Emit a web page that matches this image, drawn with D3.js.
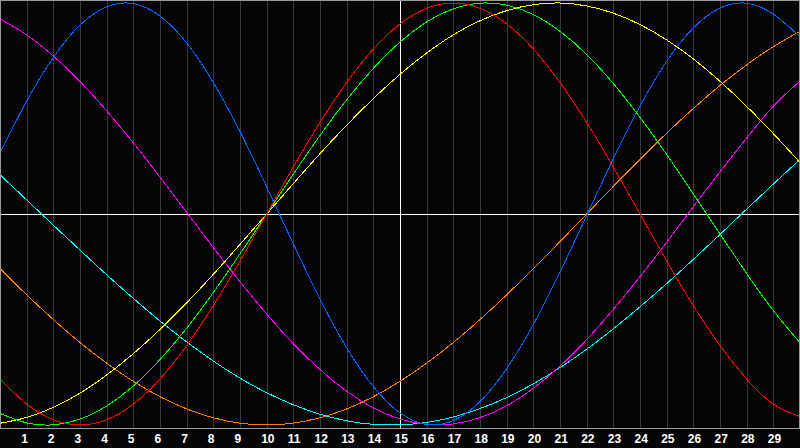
<!DOCTYPE html>
<html>
    <meta charset=utf-8>
<head>
    <style>
      body {
        margin: 0;
        background: #000;
      }
      #chart {
        display: block;
      }
    </style>
</head>

<body>
    <svg id="chart" width="800" height="448"></svg>
    <script src="https://d3js.org/d3.v7.min.js"></script>
    <script>

    // x positions of the samples (0 .. 30)
    var xs = [0, 1, 2, 3, 4, 5, 6, 7, 8, 9, 10, 11, 12, 13, 14, 15,
              16, 17, 18, 19, 20, 21, 22, 23, 24, 25, 26, 27, 28, 29, 30]

    var tickLabels = [1, 2, 3, 4, 5, 6, 7, 8, 9, 10, 11, 12, 13, 14, 15,
                      16, 17, 18, 19, 20, 21, 22, 23, 24, 25, 26, 27, 28, 29]

    // series values
    var red = [-0.782, -0.901, -0.975, -1, -0.975, -0.901, -0.782, -0.623, -0.434, -0.223,
               0, 0.223, 0.434, 0.623, 0.782, 0.901, 0.975, 1, 0.975, 0.901,
               0.782, 0.623, 0.434, 0.223, 0, -0.223, -0.434, -0.623, -0.782, -0.901, -0.96]

    var green = [-0.945, -0.990, -0.999, -0.972, -0.910, -0.815, -0.690, -0.541, -0.372, -0.189,
                 0, 0.189, 0.372, 0.541, 0.690, 0.815, 0.910, 0.972, 0.999, 0.990,
                 0.945, 0.866, 0.756, 0.618, 0.458, 0.282, 0.095, -0.095, -0.282, -0.458, -0.61]

    var yellow = [-0.992, -0.964, -0.916, -0.849, -0.763, -0.662, -0.547, -0.421, -0.286, -0.144,
                  0, 0.144, 0.286, 0.421, 0.547, 0.662, 0.763, 0.849, 0.916, 0.964,
                  0.992, 1.0, 0.986, 0.952, 0.898, 0.825, 0.735, 0.629, 0.510, 0.381, 0.244]

    var blue = [0.288, 0.535, 0.742, 0.895, 0.982, 0.997, 0.938, 0.811, 0.623, 0.391,
                0.129, -0.142, -0.403, -0.634, -0.818, -0.943, -0.998, -0.979, -0.889, -0.733,
                -0.524, -0.275, -0.007, 0.262, 0.512, 0.724, 0.882, 0.976, 0.999, 0.947, 0.84]

    var magenta = [0.925, 0.849, 0.749, 0.628, 0.489, 0.337, 0.175, 0.008, -0.159, -0.321,
                   -0.474, -0.615, -0.737, -0.840, -0.919, -0.972, -0.997, -0.995, -0.965, -0.909,
                   -0.826, -0.721, -0.595, -0.452, -0.297, -0.134, 0.034, 0.200, 0.360, 0.511, 0.63]

    var orange = [-0.259, -0.383, -0.5, -0.609, -0.707, -0.793, -0.866, -0.924, -0.966, -0.991,
                  -1, -0.991, -0.966, -0.924, -0.866, -0.793, -0.707, -0.609, -0.5, -0.383,
                  -0.259, -0.131, 0, 0.131, 0.259, 0.383, 0.5, 0.609, 0.707, 0.793, 0.866]

    var cyan = [0.186, 0.067, -0.053, -0.171, -0.288, -0.400, -0.507, -0.606, -0.697, -0.778,
                -0.847, -0.904, -0.949, -0.980, -0.997, -0.999, -0.988, -0.962, -0.922, -0.870,
                -0.805, -0.728, -0.641, -0.544, -0.440, -0.330, -0.215, -0.097, 0.023, 0.142, 0.259]

    var series = [
      {name: 'cyan', color: '#00ffff', values: cyan},
      {name: 'orange', color: '#ff8000', values: orange},
      {name: 'magenta', color: '#ff00ff', values: magenta},
      {name: 'blue', color: '#0066ff', values: blue},
      {name: 'yellow', color: '#ffff00', values: yellow},
      {name: 'green', color: '#00ff00', values: green},
      {name: 'red', color: '#ff0000', values: red}
    ]

    var svg = d3.select('#chart')
    var plotW = 800, plotH = 428

    var x = d3.scaleLinear().domain([0, 30]).range([0, plotW])
    var y = d3.scaleLinear().domain([-1, 1]).range([425, 3])

    svg.append('rect')
      .attr('width', 800)
      .attr('height', 448)
      .attr('fill', '#050508')

    // vertical grid
    svg.append('g')
      .selectAll('line')
      .data(tickLabels)
      .enter()
      .append('line')
      .attr('x1', function(d) { return Math.round(x(d)) + 0.5 })
      .attr('x2', function(d) { return Math.round(x(d)) + 0.5 })
      .attr('y1', 0)
      .attr('y2', plotH)
      .attr('stroke', function(d) { return d === 15 ? '#ffffff' : '#3a3a3a' })
      .attr('shape-rendering', 'crispEdges')

    // zero line
    svg.append('line')
      .attr('x1', 0)
      .attr('x2', plotW)
      .attr('y1', Math.round(y(0)) + 0.5)
      .attr('y2', Math.round(y(0)) + 0.5)
      .attr('stroke', '#ffffff')
      .attr('shape-rendering', 'crispEdges')

    var line = d3.line()
      .x(function(d, i) { return x(xs[i]) })
      .y(function(d) { return y(d) })
      .curve(d3.curveNatural)

    svg.append('g')
      .selectAll('path')
      .data(series)
      .enter()
      .append('path')
      .attr('d', function(d) { return line(d.values) })
      .attr('fill', 'none')
      .attr('stroke', function(d) { return d.color })
      .attr('stroke-width', 1)
      .attr('shape-rendering', 'crispEdges')

    // frame
    svg.append('rect')
      .attr('x', 0.5)
      .attr('y', 0.5)
      .attr('width', plotW - 1)
      .attr('height', plotH)
      .attr('fill', 'none')
      .attr('stroke', '#9a9a9a')
      .attr('shape-rendering', 'crispEdges')

    // bottom labels
    var xAxis = d3.axisBottom(x)
      .tickValues(tickLabels)
      .tickSize(0)
      .tickFormat(d3.format('d'))

    var axisG = svg.append('g')
      .attr('transform', 'translate(0,' + plotH + ')')
      .call(xAxis)

    axisG.select('.domain').remove()
    axisG.selectAll('text')
      .attr('text-anchor', 'start')
      .attr('x', -6)
      .attr('y', 15)
      .attr('dy', 0)
      .attr('fill', '#ffffff')
      .style('font-family', '"Liberation Sans", Arial, sans-serif')
      .style('font-size', '12px')
      .style('font-weight', 'bold')

    </script>
</body>
</html>
